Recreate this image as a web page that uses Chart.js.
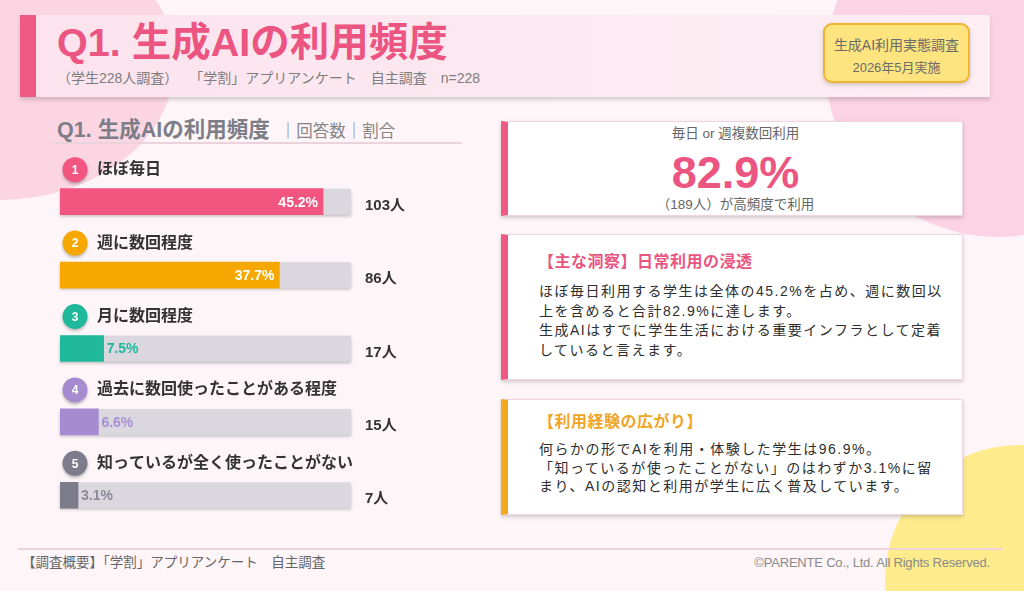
<!DOCTYPE html>
<html lang="ja">
<head>
<meta charset="utf-8">
<script src="https://cdn.jsdelivr.net/npm/chart.js@4.4.1/dist/chart.umd.min.js"></script>
<style>
  html, body { margin: 0; padding: 0; }
  body { width: 1024px; height: 591px; position: relative; overflow: hidden; background: #fdf5f8;
         font-family: "Liberation Sans", "Noto Sans CJK JP", sans-serif; }
  .abs { position: absolute; }
  .blob1 { left: -175px; top: -75px; width: 350px; height: 275px; border-radius: 50%; background: #fcd5e3; }
  .blob2 { left: 825px; top: -108px; width: 345px; height: 345px; border-radius: 50%; background: #fcd3e5; }
  .blob3 { left: 885px; top: 445px; width: 270px; height: 270px; border-radius: 50%; background: #fdeb8c; }
  .header { left: 20px; top: 15px; width: 954px; height: 82px; border-left: 16px solid #ef5a85;
            background: linear-gradient(to right, #fce3ed, #fdeef4); box-shadow: 0 3px 4px rgba(0,0,0,0.16); }
  .title { left: 57px; top: 21px; font-size: 39.5px; line-height: 42px; font-weight: bold; color: #ec5581; white-space: nowrap; }
  .subtitle { left: 57px; top: 69px; font-size: 14px; line-height: 18px; color: #7d7d7d; white-space: pre; }
  .badge { left: 823px; top: 23px; width: 143px; height: 56px; border: 2px solid #f1b434; border-radius: 9px;
           background: #fde47e; box-shadow: 0 2px 4px rgba(0,0,0,0.18); color: #6b6b6b; text-align: center; }
  .badge .l1 { position: absolute; left: 0; right: 0; top: 11px; font-size: 14px; line-height: 18px; }
  .badge .l2 { position: absolute; left: 0; right: 0; top: 34px; font-size: 13px; line-height: 18px; }
  .sect { left: 57px; top: 117px; font-size: 21.5px; line-height: 26px; font-weight: bold; color: #7d7d87; white-space: nowrap; }
  .sect span { font-size: 16.5px; font-weight: normal; color: #858585; margin-left: 10px; }
  .sectline { left: 54px; top: 142px; width: 408px; height: 2px; background: #ebd3dc; }
  .card { background: #fff; box-shadow: 0 2px 4px rgba(0,0,0,0.18); border: 1px solid #f1d6e0; box-sizing: border-box; }
  .c1 { left: 501px; top: 121px; width: 462px; height: 95px; border-left: 7px solid #ef5a85; }
  .c2 { left: 501px; top: 234px; width: 462px; height: 146px; border-left: 7px solid #ef5a85; }
  .c3 { left: 501px; top: 399px; width: 462px; height: 116px; border-left: 7px solid #f4a81c; }
  .kpi-t { left: 508px; width: 455px; text-align: center; color: #666; font-size: 13.5px; line-height: 18px; }
  .kpi-n { left: 508px; width: 455px; text-align: center; color: #ec5581; font-size: 45px; line-height: 48px; font-weight: bold; top: 149px; }
  .ctitle { font-size: 16px; line-height: 20px; font-weight: bold; white-space: nowrap; letter-spacing: 0.5px; }
  .cbody { font-size: 14px; color: #2e2e2e; white-space: nowrap; letter-spacing: 1.5px; }
  .footline { left: 18px; top: 548px; width: 985px; height: 2px; background: #efd3dc; }
  .footl { left: 22px; top: 555px; font-size: 13.5px; line-height: 16px; color: #666; white-space: pre; }
  .footr { left: 690px; width: 300px; text-align: right; top: 555px; font-size: 13px; line-height: 16px; color: #8a8a8a; white-space: nowrap; letter-spacing: -0.2px; }
  #chartBox { position: absolute; left: 0; top: 150px; width: 480px; height: 400px; }
</style>
</head>
<body>
<div class="abs blob1"></div>
<div class="abs blob2"></div>
<div class="abs blob3"></div>

<div class="abs header"></div>
<div class="abs title">Q1. 生成AIの利用頻度</div>
<div class="abs subtitle">（学生228人調査）　 「学割」アプリアンケート　自主調査　n=228</div>
<div class="abs badge"><div class="l1">生成AI利用実態調査</div><div class="l2">2026年5月実施</div></div>

<div class="abs sect">Q1. 生成AIの利用頻度<span>｜回答数｜割合</span></div>
<div class="abs sectline"></div>

<div id="chartBox"><canvas id="chart"></canvas></div>

<div class="abs card c1"></div>
<div class="abs kpi-t" style="top:125px;">毎日 or 週複数回利用</div>
<div class="abs kpi-n">82.9%</div>
<div class="abs kpi-t" style="top:196px;">（189人）が高頻度で利用</div>

<div class="abs card c2"></div>
<div class="abs ctitle" style="left:538px; top:252px; color:#e9557f;">【主な洞察】日常利用の浸透</div>
<div class="abs cbody" style="left:539px; top:282px; line-height:19.5px;">ほぼ毎日利用する学生は全体の45.2%を占め、週に数回以<br>上を含めると合計82.9%に達します。<br>生成AIはすでに学生生活における重要インフラとして定着<br>していると言えます。</div>

<div class="abs card c3"></div>
<div class="abs ctitle" style="left:538px; top:412px; color:#f0a528;">【利用経験の広がり】</div>
<div class="abs cbody" style="left:539px; top:440px; line-height:18.7px;">何らかの形でAIを利用・体験した学生は96.9%。<br>「知っているが使ったことがない」のはわずか3.1%に留<br>まり、AIの認知と利用が学生に広く普及しています。</div>

<div class="abs footline"></div>
<div class="abs footl">【調査概要】「学割」アプリアンケート　自主調査</div>
<div class="abs footr">©PARENTE Co., Ltd. All Rights Reserved.</div>

<script>
const categories = ['ほぼ毎日', '週に数回程度', '月に数回程度', '過去に数回使ったことがある程度', '知っているが全く使ったことがない'];
const shares = [45.2, 37.7, 7.5, 6.6, 3.1];
const counts = [103, 86, 17, 15, 7];
const barColors = ['#f2557f', '#f6a800', '#1fb89a', '#a68bd1', '#7c7c8a'];
const outsideLabelColors = ['#f2557f', '#f6a800', '#1fb89a', '#a88fd3', '#8b8b96'];
const scaleMax = 50;
const countSuffix = '人';

const FONT = '"Liberation Sans", "Noto Sans CJK JP", sans-serif';

const decorPlugin = {
  id: 'decor',
  beforeDatasetsDraw(chart) {
    const ctx = chart.ctx;
    const xs = chart.scales.x;
    const meta = chart.getDatasetMeta(0);
    const x0 = xs.getPixelForValue(0), x1 = xs.getPixelForValue(scaleMax);
    ctx.save();
    meta.data.forEach((bar) => {
      const h = bar.height;
      ctx.shadowColor = 'rgba(0,0,0,0.22)';
      ctx.shadowBlur = 3;
      ctx.shadowOffsetY = 2;
      ctx.fillStyle = '#dad7df';
      ctx.fillRect(x0, bar.y - h / 2, x1 - x0, h);
    });
    ctx.restore();
  },
  afterDatasetsDraw(chart) {
    const ctx = chart.ctx;
    const meta = chart.getDatasetMeta(0);
    ctx.save();
    meta.data.forEach((bar, i) => {
      const cy = bar.y - 32;
      ctx.save();
      ctx.shadowColor = 'rgba(0,0,0,0.25)';
      ctx.shadowBlur = 3;
      ctx.shadowOffsetY = 2;
      ctx.fillStyle = barColors[i];
      ctx.beginPath();
      ctx.arc(75, cy, 12.5, 0, Math.PI * 2);
      ctx.fill();
      ctx.restore();
      ctx.fillStyle = '#fff';
      ctx.font = 'bold 12px ' + FONT;
      ctx.textAlign = 'center';
      ctx.textBaseline = 'middle';
      ctx.fillText(String(i + 1), 75, cy + 1);
      ctx.fillStyle = '#333';
      ctx.font = 'bold 16px ' + FONT;
      ctx.textAlign = 'left';
      ctx.fillText(categories[i], 97, cy);
      ctx.font = 'bold 14px ' + FONT;
      const pct = shares[i].toFixed(1) + '%';
      if (shares[i] > 20) {
        ctx.fillStyle = '#fff';
        ctx.textAlign = 'right';
        ctx.fillText(pct, bar.x - 5, bar.y + 1);
      } else {
        ctx.fillStyle = outsideLabelColors[i];
        ctx.textAlign = 'left';
        ctx.fillText(pct, bar.x + 3, bar.y + 1);
      }
      ctx.fillStyle = '#333';
      ctx.font = 'bold 15px ' + FONT;
      ctx.textAlign = 'left';
      ctx.fillText(counts[i] + countSuffix, 365, bar.y + 4);
    });
    ctx.restore();
  }
};

new Chart(document.getElementById('chart'), {
  type: 'bar',
  data: {
    labels: categories,
    datasets: [{
      data: shares,
      backgroundColor: barColors,
      barThickness: 26,
      borderWidth: 0,
      borderRadius: 0
    }]
  },
  options: {
    indexAxis: 'y',
    responsive: true,
    maintainAspectRatio: false,
    animation: false,
    layout: { padding: { left: 60, right: 129, top: 15, bottom: 18 } },
    scales: {
      x: { display: false, min: 0, max: scaleMax },
      y: { display: false }
    },
    plugins: { legend: { display: false }, tooltip: { enabled: false } }
  },
  plugins: [decorPlugin]
});
</script>
</body>
</html>
